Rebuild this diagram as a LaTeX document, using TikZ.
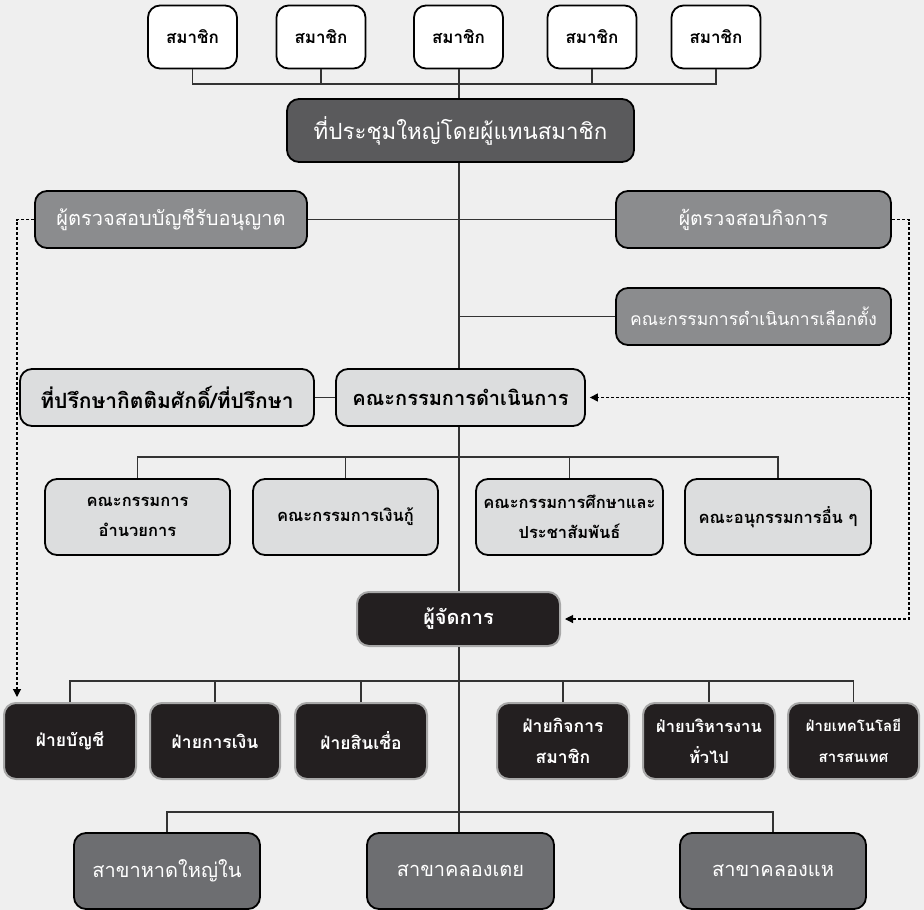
\documentclass[tikz,border=0pt]{standalone}
\usepackage{fontspec}
\setmainfont[Script=Thai]{Loma}
\usetikzlibrary{arrows.meta}
\definecolor{bgc}{HTML}{EFEFEF}
\definecolor{darkg}{HTML}{5A5A5C}
\definecolor{midg}{HTML}{8B8C8E}
\definecolor{lightg}{HTML}{DCDDDE}
\definecolor{blk}{HTML}{231F20}
\definecolor{brg}{HTML}{6D6E71}
\definecolor{rimg}{HTML}{A8A8A8}
\definecolor{linec}{HTML}{333333}
\tikzset{
  box/.style={rectangle, rounded corners=12pt, draw=black, line width=1.8pt, inner sep=2pt, align=center, font=\bfseries},
  memberbox/.style={box, fill=white, text=black, minimum width=89pt, minimum height=63pt, font=\bfseries\fontsize{17}{20}\selectfont},
  gmbox/.style={box, fill=darkg, text=white, font=\fontsize{22.3}{26}\selectfont},
  audbox/.style={box, fill=midg, text=white},
  lightbox/.style={box, fill=lightg, text=black},
  blackbox/.style={box, fill=blk, draw=rimg, line width=2pt, text=white},
  branchbox/.style={box, fill=brg, text=white, font=\fontsize{20}{24}\selectfont},
  conn/.style={draw=linec, line width=1.2pt},
  dashconn/.style={draw=black, line width=1.1pt, dash pattern=on 3pt off 2pt, -{Triangle[length=8pt,width=8pt]}},
}
\begin{document}
\begin{tikzpicture}[x=1pt,y=-1pt]
\fill[bgc] (0,0) rectangle (924,910);
\useasboundingbox (0,0) rectangle (924,910);
% members
\node[memberbox] (m1) at (192.5,37) {สมาชิก};
\node[memberbox] (m2) at (321,37) {สมาชิก};
\node[memberbox] (m3) at (458.5,37) {สมาชิก};
\node[memberbox] (m4) at (592,37) {สมาชิก};
\node[memberbox] (m5) at (716,37) {สมาชิก};
\coordinate (mb) at (0,84);
\coordinate (spine) at (459,0);
% general meeting
\node[gmbox, minimum width=347pt, minimum height=63pt] (gm) at (460.5,130.5) {ที่ประชุมใหญ่โดยผู้แทนสมาชิก};
% auditors
\node[audbox, minimum width=272pt, minimum height=57pt, font=\fontsize{20}{24}\selectfont] (aud1) at (171,219.5) {ผู้ตรวจสอบบัญชีรับอนุญาต};
\node[audbox, minimum width=275pt, minimum height=57pt, font=\fontsize{19.5}{24}\selectfont] (aud2) at (753.5,219.5) {ผู้ตรวจสอบกิจการ};
\node[audbox, minimum width=275pt, minimum height=57pt, font=\fontsize{17.5}{22}\selectfont] (elec) at (753.5,316.5) {คณะกรรมการดำเนินการเลือกตั้ง};
% board
\node[lightbox, minimum width=294pt, minimum height=57pt, font=\bfseries\fontsize{21}{25}\selectfont] (adv) at (167,397.5) {ที่ปรึกษากิตติมศักดิ์/ที่ปรึกษา};
\node[lightbox, minimum width=249pt, minimum height=57pt, font=\bfseries\fontsize{20}{24}\selectfont] (board) at (460.5,397.5) {คณะกรรมการดำเนินการ};
% committees
\tikzset{cbox/.style={lightbox, minimum height=76pt, font=\bfseries\fontsize{16.5}{30}\selectfont}}
\node[cbox, minimum width=185pt] (c1) at (137.5,517) {คณะกรรมการ\\อำนวยการ};
\node[cbox, minimum width=185pt] (c2) at (345.5,517) {คณะกรรมการเงินกู้};
\node[cbox, minimum width=187pt] (c3) at (569.5,517) {คณะกรรมการศึกษาและ\\ประชาสัมพันธ์};
\node[cbox, minimum width=186pt] (c4) at (778,517) {คณะอนุกรรมการอื่น ๆ};
\coordinate (cb) at (0,457);
% manager
\node[blackbox, minimum width=203pt, minimum height=54pt, font=\bfseries\fontsize{20}{24}\selectfont] (mgr) at (458.5,619) {ผู้จัดการ};
% divisions
\tikzset{dbox/.style={blackbox, minimum width=132pt, minimum height=76pt, font=\bfseries\fontsize{17.5}{31}\selectfont}}
\node[dbox] (d1) at (70,741) {ฝ่ายบัญชี};
\node[dbox, minimum width=130pt] (d2) at (215,741) {ฝ่ายการเงิน};
\node[dbox] (d3) at (361,741) {ฝ่ายสินเชื่อ};
\node[dbox] (d4) at (563,741) {ฝ่ายกิจการ\\สมาชิก};
\node[dbox, font=\bfseries\fontsize{16.5}{31}\selectfont] (d5) at (709,741) {ฝ่ายบริหารงาน\\ทั่วไป};
\node[dbox, minimum width=131pt, font=\bfseries\fontsize{15}{31}\selectfont] (d6) at (853.5,741) {ฝ่ายเทคโนโลยี\\สารสนเทศ};
\coordinate (db) at (0,681);
% branches
\node[branchbox, minimum width=186pt, minimum height=76pt] (b1) at (167,871) {สาขาหาดใหญ่ใน};
\node[branchbox, minimum width=187pt, minimum height=76pt] (b2) at (460.5,871) {สาขาคลองเตย};
\node[branchbox, minimum width=186pt, minimum height=76pt] (b3) at (773,871) {สาขาคลองแห};
\coordinate (bb) at (0,812);
% connectors
\draw[conn] (m1.south) -- (m1.south |- mb) -- (m5.south |- mb) -- (m5.south);
\draw[conn] (m2.south) -- (m2.south |- mb);
\draw[conn] (m4.south) -- (m4.south |- mb);
\draw[conn] (spine |- m3.south) -- (spine |- gm.north);
\draw[conn] (spine |- gm.south) -- (spine |- board.north);
\draw[conn] (aud1.east) -- (aud1.east -| spine);
\draw[conn] (aud2.west) -- (aud2.west -| spine);
\draw[conn] (elec.west) -- (elec.west -| spine);
\draw[conn] (adv.east) -- (board.west);
\draw[conn] (spine |- board.south) -- (spine |- mgr.north);
\draw[conn] (c1.north) -- (c1.north |- cb) -- (c4.north |- cb) -- (c4.north);
\draw[conn] (c2.north) -- (c2.north |- cb);
\draw[conn] (c3.north) -- (c3.north |- cb);
\draw[conn] (spine |- mgr.south) -- (spine |- bb);
\draw[conn] (d1.north) -- (d1.north |- db) -- (d6.north |- db) -- (d6.north);
\draw[conn] (d2.north) -- (d2.north |- db);
\draw[conn] (d3.north) -- (d3.north |- db);
\draw[conn] (d4.north) -- (d4.north |- db);
\draw[conn] (d5.north) -- (d5.north |- db);
\draw[conn] (b1.north) -- (b1.north |- bb) -- (b3.north |- bb) -- (b3.north);
\draw[conn] (spine |- b2.north) -- (spine |- bb);
% dashed
\coordinate (lc) at (17,219.5);
\coordinate (la) at (17,697);
\coordinate (rc) at (909,219.5);
\coordinate (rm) at (909,619);
\coordinate (rb) at (909,397.5);
\draw[dashconn] (aud1.west) -- (lc) -- (la);
\draw[dashconn, shorten >=4pt] (aud2.east) -- (rc) -- (rm) -- (mgr.east);
\draw[dashconn, shorten >=4pt] (rb) -- (board.east);
\end{tikzpicture}
\end{document}
